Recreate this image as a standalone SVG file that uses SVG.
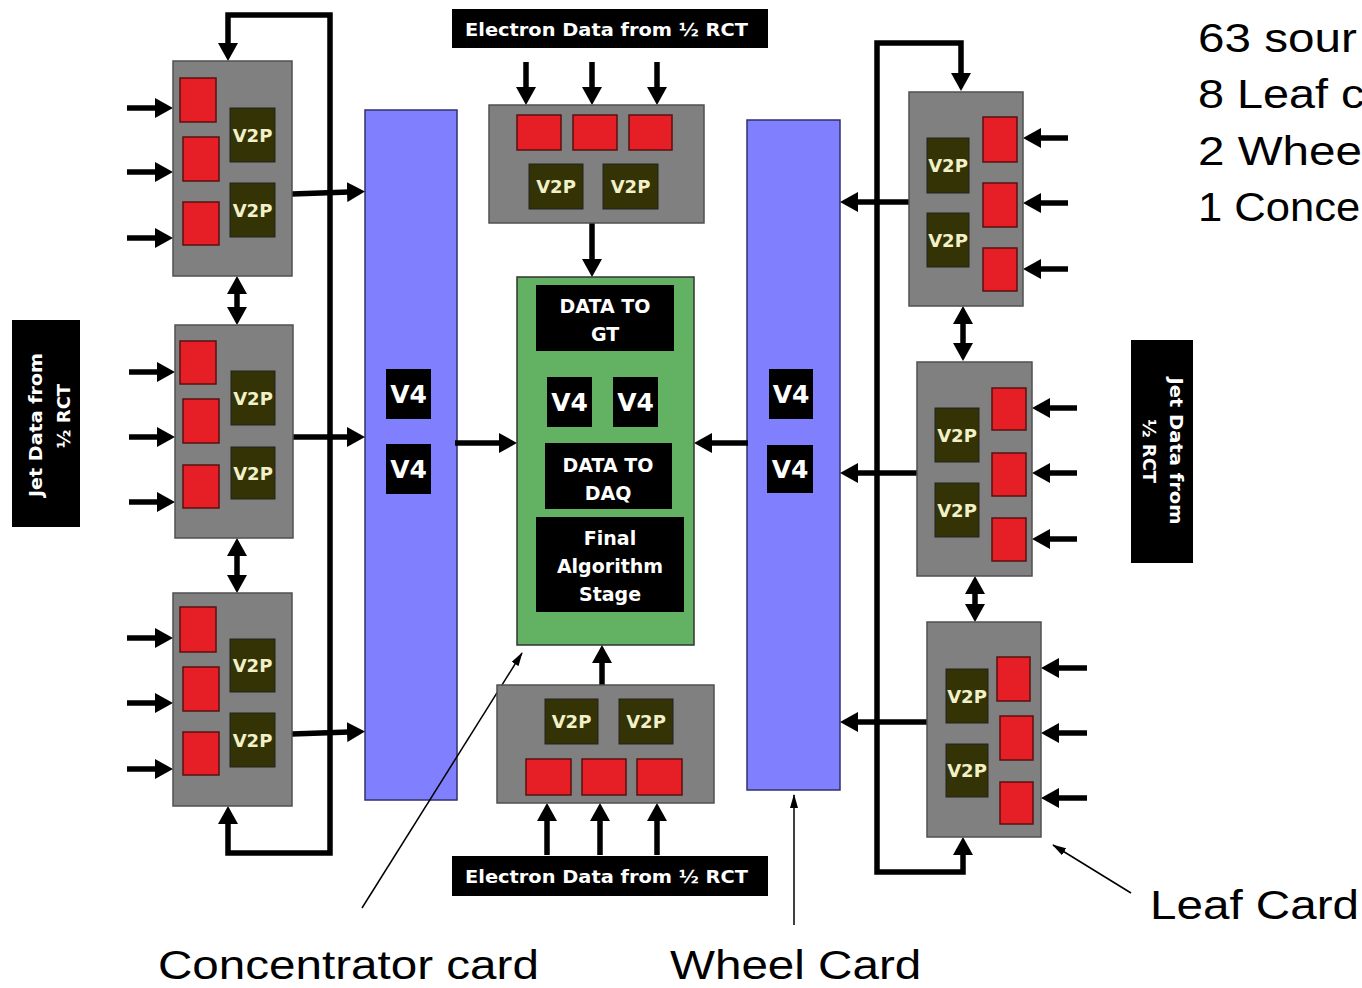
<svg xmlns="http://www.w3.org/2000/svg" width="1362" height="988" viewBox="0 0 1362 988">
<style>
.bg{fill:#ffffff}
.card{fill:#808080;stroke:#505050;stroke-width:1.5}
.red{fill:#e61e26;stroke:#5a1010;stroke-width:1.5}
.v2p{fill:#333305;stroke:#222;stroke-width:1}
.v2pt{font-family:"DejaVu Sans",Verdana,sans-serif;font-weight:bold;font-size:18px;fill:#f2f0c8;text-anchor:middle}
.wheel{fill:#8080ff;stroke:#30306a;stroke-width:1.5}
.conc{fill:#63b263;stroke:#333;stroke-width:1.5}
.blk{fill:#000}
.v4t{font-family:"DejaVu Sans",Verdana,sans-serif;font-weight:bold;font-size:25px;fill:#fff;text-anchor:middle}
.lbt{font-family:"DejaVu Sans",Verdana,sans-serif;font-weight:bold;font-size:19px;fill:#fff;text-anchor:middle}
.lab{font-family:"DejaVu Sans",Verdana,sans-serif;font-weight:bold;font-size:18px;fill:#fff}
.note{font-family:"Liberation Sans",Arial,sans-serif;font-size:40px;fill:#000}
.c{fill:none;stroke:#000;stroke-width:5.5}
.thin{fill:none;stroke:#000;stroke-width:1.5}
</style>
<defs>
<marker id="a" viewBox="0 0 18 20" markerWidth="18" markerHeight="20" refX="2" refY="10" orient="auto-start-reverse" markerUnits="userSpaceOnUse"><path d="M0,0 L18,10 L0,20 z" fill="#000"/></marker>
<marker id="t" viewBox="0 0 14 8" markerWidth="14" markerHeight="8" refX="13" refY="4" orient="auto" markerUnits="userSpaceOnUse"><path d="M0,0 L14,4 L0,8 z" fill="#000"/></marker>
</defs>
<rect class="bg" x="0" y="0" width="1362" height="988"/>

<g id="wheel-left">
<rect class="wheel" x="365" y="110" width="92" height="690"/>
<rect class="blk" x="386" y="369" width="45" height="50"/><text class="v4t" x="408.5" y="403">V4</text>
<rect class="blk" x="386" y="444" width="45" height="50"/><text class="v4t" x="408.5" y="478">V4</text>
</g>
<g id="wheel-right">
<rect class="wheel" x="747" y="120" width="93" height="670"/>
<rect class="blk" x="769" y="369" width="44" height="50"/><text class="v4t" x="791" y="403">V4</text>
<rect class="blk" x="767" y="445" width="46" height="48"/><text class="v4t" x="790" y="478">V4</text>
</g>

<g id="connectors">
<path class="c" d="M228,45 V15 H330 V853 H228 V822" marker-start="url(#a)" marker-end="url(#a)"/>
<path class="c" d="M961,75 V43 H877 V872 H963 V853" marker-start="url(#a)" marker-end="url(#a)"/>
<path class="c" d="M127,108 H157" marker-end="url(#a)"/>
<path class="c" d="M127,172 H157" marker-end="url(#a)"/>
<path class="c" d="M127,238 H157" marker-end="url(#a)"/>
<path class="c" d="M129,372 H159" marker-end="url(#a)"/>
<path class="c" d="M129,437 H159" marker-end="url(#a)"/>
<path class="c" d="M129,502 H159" marker-end="url(#a)"/>
<path class="c" d="M127,638 H157" marker-end="url(#a)"/>
<path class="c" d="M127,703 H157" marker-end="url(#a)"/>
<path class="c" d="M127,769 H157" marker-end="url(#a)"/>
<path class="c" d="M292,194 L349,192" marker-end="url(#a)"/>
<path class="c" d="M293,437 H349" marker-end="url(#a)"/>
<path class="c" d="M292,734 L349,732" marker-end="url(#a)"/>
<path class="c" d="M237,292 V309" marker-start="url(#a)" marker-end="url(#a)"/>
<path class="c" d="M237,554 V577" marker-start="url(#a)" marker-end="url(#a)"/>
<path class="c" d="M455,443 H501" marker-end="url(#a)"/>
<path class="c" d="M748,443 H710" marker-end="url(#a)"/>
<path class="c" d="M526,62 V89" marker-end="url(#a)"/>
<path class="c" d="M592,62 V89" marker-end="url(#a)"/>
<path class="c" d="M657,62 V89" marker-end="url(#a)"/>
<path class="c" d="M592,223 V261" marker-end="url(#a)"/>
<path class="c" d="M547,855 V819" marker-end="url(#a)"/>
<path class="c" d="M600,855 V819" marker-end="url(#a)"/>
<path class="c" d="M657,855 V819" marker-end="url(#a)"/>
<path class="c" d="M602,685 V661" marker-end="url(#a)"/>
<path class="c" d="M1068,138 H1039" marker-end="url(#a)"/>
<path class="c" d="M1068,203 H1039" marker-end="url(#a)"/>
<path class="c" d="M1068,269 H1039" marker-end="url(#a)"/>
<path class="c" d="M1077,408 H1048" marker-end="url(#a)"/>
<path class="c" d="M1077,473 H1048" marker-end="url(#a)"/>
<path class="c" d="M1077,539 H1048" marker-end="url(#a)"/>
<path class="c" d="M1087,668 H1057" marker-end="url(#a)"/>
<path class="c" d="M1087,733 H1057" marker-end="url(#a)"/>
<path class="c" d="M1087,798 H1057" marker-end="url(#a)"/>
<path class="c" d="M909,202 H856" marker-end="url(#a)"/>
<path class="c" d="M917,473 H856" marker-end="url(#a)"/>
<path class="c" d="M927,722 H856" marker-end="url(#a)"/>
<path class="c" d="M963,322 V345" marker-start="url(#a)" marker-end="url(#a)"/>
<path class="c" d="M975,592 V606" marker-start="url(#a)" marker-end="url(#a)"/>
<path class="thin" d="M362,908 L522,653" marker-end="url(#t)"/>
<path class="thin" d="M794,925 V795" marker-end="url(#t)"/>
<path class="thin" d="M1131,893 L1053,845" marker-end="url(#t)"/>
</g>

<g id="leaf-l1">
<rect class="card" x="173" y="61" width="119" height="215"/>
<rect class="red" x="180" y="78" width="36" height="44"/>
<rect class="red" x="183" y="137" width="36" height="44"/>
<rect class="red" x="183" y="202" width="36" height="43"/>
<rect class="v2p" x="230" y="108" width="45" height="54"/><text class="v2pt" x="252.5" y="141.5">V2P</text>
<rect class="v2p" x="230" y="183" width="45" height="54"/><text class="v2pt" x="252.5" y="216.5">V2P</text>
</g>
<g id="leaf-l2">
<rect class="card" x="175" y="325" width="118" height="213"/>
<rect class="red" x="180" y="341" width="36" height="43"/>
<rect class="red" x="183" y="399" width="36" height="44"/>
<rect class="red" x="183" y="465" width="36" height="43"/>
<rect class="v2p" x="231" y="371" width="44" height="54"/><text class="v2pt" x="253" y="404.5">V2P</text>
<rect class="v2p" x="231" y="447" width="44" height="52"/><text class="v2pt" x="253" y="479.5">V2P</text>
</g>
<g id="leaf-l3">
<rect class="card" x="173" y="593" width="119" height="213"/>
<rect class="red" x="180" y="607" width="36" height="45"/>
<rect class="red" x="183" y="667" width="36" height="44"/>
<rect class="red" x="183" y="732" width="36" height="43"/>
<rect class="v2p" x="230" y="639" width="45" height="53"/><text class="v2pt" x="252.5" y="672">V2P</text>
<rect class="v2p" x="230" y="713" width="45" height="54"/><text class="v2pt" x="252.5" y="746.5">V2P</text>
</g>
<g id="leaf-top">
<rect class="card" x="489" y="105" width="215" height="118"/>
<rect class="red" x="517" y="115" width="44" height="35"/>
<rect class="red" x="573" y="115" width="44" height="35"/>
<rect class="red" x="629" y="115" width="43" height="35"/>
<rect class="v2p" x="529" y="164" width="54" height="45"/><text class="v2pt" x="556" y="193">V2P</text>
<rect class="v2p" x="603" y="164" width="55" height="45"/><text class="v2pt" x="630.5" y="193">V2P</text>
</g>
<g id="leaf-bottom">
<rect class="card" x="497" y="685" width="217" height="118"/>
<rect class="v2p" x="545" y="699" width="53" height="45"/><text class="v2pt" x="571.5" y="728">V2P</text>
<rect class="v2p" x="619" y="699" width="54" height="45"/><text class="v2pt" x="646" y="728">V2P</text>
<rect class="red" x="526" y="759" width="45" height="36"/>
<rect class="red" x="582" y="759" width="44" height="36"/>
<rect class="red" x="637" y="759" width="45" height="36"/>
</g>
<g id="leaf-r1">
<rect class="card" x="909" y="92" width="114" height="214"/>
<rect class="v2p" x="927" y="138" width="42" height="55"/><text class="v2pt" x="948" y="172">V2P</text>
<rect class="v2p" x="927" y="213" width="42" height="54"/><text class="v2pt" x="948" y="246.5">V2P</text>
<rect class="red" x="983" y="117" width="34" height="45"/>
<rect class="red" x="983" y="183" width="34" height="44"/>
<rect class="red" x="983" y="248" width="34" height="43"/>
</g>
<g id="leaf-r2">
<rect class="card" x="917" y="362" width="115" height="214"/>
<rect class="v2p" x="935" y="408" width="44" height="54"/><text class="v2pt" x="957" y="441.5">V2P</text>
<rect class="v2p" x="935" y="483" width="44" height="54"/><text class="v2pt" x="957" y="516.5">V2P</text>
<rect class="red" x="992" y="388" width="34" height="42"/>
<rect class="red" x="992" y="453" width="34" height="43"/>
<rect class="red" x="992" y="518" width="34" height="43"/>
</g>
<g id="leaf-r3">
<rect class="card" x="927" y="622" width="114" height="215"/>
<rect class="v2p" x="946" y="669" width="42" height="54"/><text class="v2pt" x="967" y="702.5">V2P</text>
<rect class="v2p" x="946" y="744" width="42" height="53"/><text class="v2pt" x="967" y="777">V2P</text>
<rect class="red" x="997" y="657" width="33" height="44"/>
<rect class="red" x="1000" y="716" width="33" height="44"/>
<rect class="red" x="1000" y="782" width="33" height="42"/>
</g>

<g id="concentrator">
<rect class="conc" x="517" y="277" width="177" height="368"/>
<rect class="blk" x="536" y="285" width="138" height="66"/>
<text class="lbt" x="605" y="313">DATA TO</text>
<text class="lbt" x="605" y="341">GT</text>
<rect class="blk" x="547" y="377" width="45" height="50"/><text class="v4t" x="569.5" y="411">V4</text>
<rect class="blk" x="613" y="377" width="45" height="50"/><text class="v4t" x="635.5" y="411">V4</text>
<rect class="blk" x="545" y="443" width="127" height="66"/>
<text class="lbt" x="608" y="472">DATA TO</text>
<text class="lbt" x="608" y="500">DAQ</text>
<rect class="blk" x="536" y="517" width="148" height="95"/>
<text class="lbt" x="610" y="545">Final</text>
<text class="lbt" x="610" y="573">Algorithm</text>
<text class="lbt" x="610" y="601">Stage</text>
</g>

<g id="label-electron-top">
<rect class="blk" x="452" y="9" width="316" height="39"/>
<text class="lab" x="465" y="36" textLength="283" lengthAdjust="spacingAndGlyphs">Electron Data from ½ RCT</text>
</g>
<g id="label-electron-bottom">
<rect class="blk" x="452" y="856" width="316" height="40"/>
<text class="lab" x="465" y="883" textLength="283" lengthAdjust="spacingAndGlyphs">Electron Data from ½ RCT</text>
</g>
<g id="label-jet-left">
<rect class="blk" x="12" y="320" width="68" height="207"/>
<text class="lab" transform="translate(42,425) rotate(-90)" text-anchor="middle" textLength="144" lengthAdjust="spacingAndGlyphs">Jet Data from</text>
<text class="lab" transform="translate(70,416) rotate(-90)" text-anchor="middle">½ RCT</text>
</g>
<g id="label-jet-right">
<rect class="blk" x="1131" y="340" width="62" height="223"/>
<text class="lab" transform="translate(1170,451) rotate(90)" text-anchor="middle" textLength="147" lengthAdjust="spacingAndGlyphs">Jet Data from</text>
<text class="lab" transform="translate(1143,451) rotate(90)" text-anchor="middle">½ RCT</text>
</g>

<g id="notes">
<text class="note" transform="translate(1198,52) scale(1.19,1)">63 sour</text>
<text class="note" transform="translate(1198,108) scale(1.17,1)">8 Leaf c</text>
<text class="note" transform="translate(1198,165) scale(1.19,1)">2 Whee</text>
<text class="note" transform="translate(1198,221) scale(1.09,1)">1 Conce</text>
<text class="note" transform="translate(1150,919) scale(1.19,1)">Leaf Card</text>
<text class="note" transform="translate(158,979) scale(1.19,1)">Concentrator card</text>
<text class="note" transform="translate(670,979) scale(1.19,1)">Wheel Card</text>
</g>
</svg>
